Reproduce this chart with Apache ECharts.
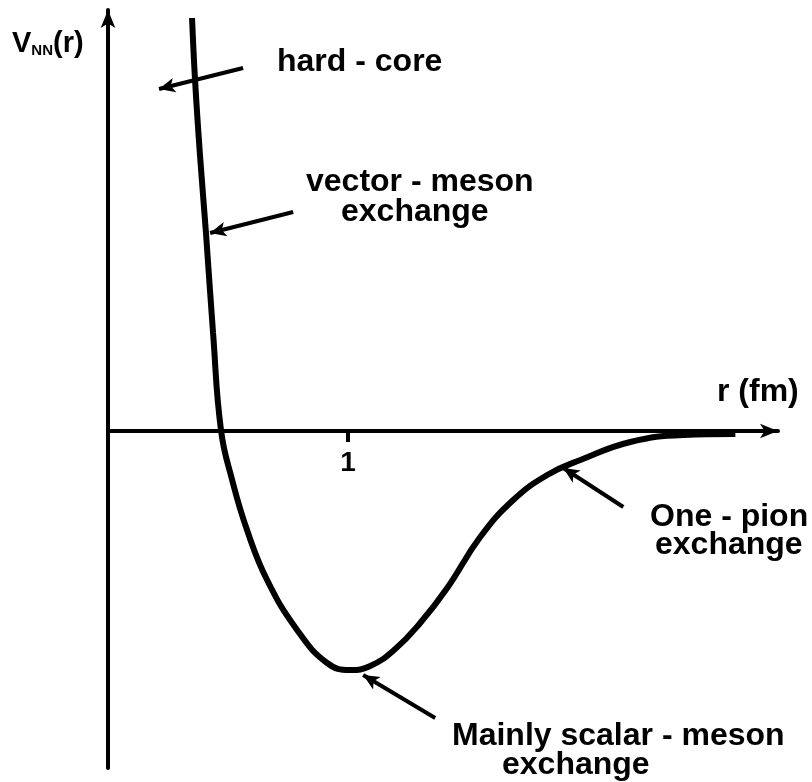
<!DOCTYPE html>
<html>
<head>
<meta charset="utf-8">
<script src="https://cdn.jsdelivr.net/npm/echarts@6/dist/echarts.min.js"></script>
<style>
  html, body { margin: 0; padding: 0; background: #fff; }
  #chart { width: 812px; height: 782px; }
</style>
</head>
<body>
<div id="chart"></div>
<script>
// r in fm, potential in arbitrary units (0 = axis)
var rValues = [0.35, 0.3625, 0.383, 0.408, 0.4375, 0.471, 0.517, 0.579, 0.6625, 0.7875,
  0.9125, 1.008, 1.092, 1.196, 1.3, 1.4125, 1.55, 1.6875, 1.829, 1.967, 2.175, 2.396, 2.6125];
var vValues = [4.13, 3.51, 2.76, 1.98, 0.98, 0.0, -0.49, -0.99, -1.49, -1.99,
  -2.32, -2.39, -2.35, -2.18, -1.92, -1.57, -1.06, -0.69, -0.44, -0.29, -0.11, -0.04, -0.03];
var xTicks = [1];

// annotation arrows: [from, to] in data space
var arrows = [
  [[0.5625, 3.63], [0.2125, 3.42]],   // hard - core
  [[0.771, 2.19], [0.425, 1.98]],     // vector - meson
  [[2.146, -0.76], [1.896, -0.37]],   // one - pion
  [[1.3625, -2.87], [1.0625, -2.44]]  // scalar - meson
];

var curve = rValues.map(function (r, i) { return [r, vValues[i]]; });

var font = 'Liberation Sans, Arial, sans-serif';
function txt(x, y, s) {
  return {
    type: 'text', x: x, y: y,
    style: { text: s, font: 'bold 32px ' + font, fill: '#000', verticalAlign: 'middle' }
  };
}

var myChart = echarts.init(document.getElementById('chart'));
myChart.setOption({
  animation: false,
  backgroundColor: '#fff',
  grid: { left: 108, right: 34, top: 10, bottom: 14, outerBoundsMode: 'none' },
  xAxis: {
    type: 'value', min: 0, max: 2.79,
    splitLine: { show: false },
    axisLine: { onZero: true, lineStyle: { color: '#000', width: 4 }, symbol: ['none', 'arrow'], symbolSize: [11, 18] },
    axisTick: { customValues: xTicks, length: 11, lineStyle: { color: '#000', width: 4 } },
    axisLabel: { show: false }
  },
  yAxis: {
    type: 'value', min: -3.37, max: 4.21,
    splitLine: { show: false },
    axisLine: { lineStyle: { color: '#000', width: 4 }, symbol: ['none', 'arrow'], symbolSize: [11, 18] },
    axisTick: { show: false },
    axisLabel: { show: false }
  },
  series: [{
    type: 'line',
    data: curve,
    smooth: 0.45,
    showSymbol: false,
    lineStyle: { color: '#000', width: 6 },
    markPoint: {
      silent: true,
      symbol: 'circle',
      symbolSize: 0,
      data: xTicks.map(function (t) {
        return {
          coord: [t, 0],
          label: {
            show: true, formatter: String(t), offset: [0, 32], color: '#000',
            fontFamily: font, fontWeight: 'bold', fontSize: 28
          }
        };
      })
    },
    markLine: {
      silent: true,
      symbol: ['none', 'arrow'],
      symbolSize: [11, 16],
      label: { show: false },
      lineStyle: { color: '#000', width: 4, type: 'solid' },
      data: arrows.map(function (a) { return [{ coord: a[0] }, { coord: a[1] }]; })
    }
  }],
  graphic: [
    {
      type: 'text', x: 12, y: 44,
      style: {
        text: '{v|V}{s|NN}{v|(r)}',
        verticalAlign: 'middle',
        rich: {
          v: { font: 'bold 29px ' + font, fill: '#000' },
          s: { font: 'bold 15px ' + font, fill: '#000', padding: [14, 0, 0, 0] }
        }
      }
    },
    txt(717, 392, 'r (fm)'),
    txt(277, 62, 'hard - core'),
    txt(306, 182, 'vector - meson'),
    txt(341, 212, 'exchange'),
    txt(650, 517, 'One - pion'),
    txt(655, 545, 'exchange'),
    txt(452, 736, 'Mainly scalar - meson'),
    txt(502, 765, 'exchange')
  ]
});
</script>
</body>
</html>
